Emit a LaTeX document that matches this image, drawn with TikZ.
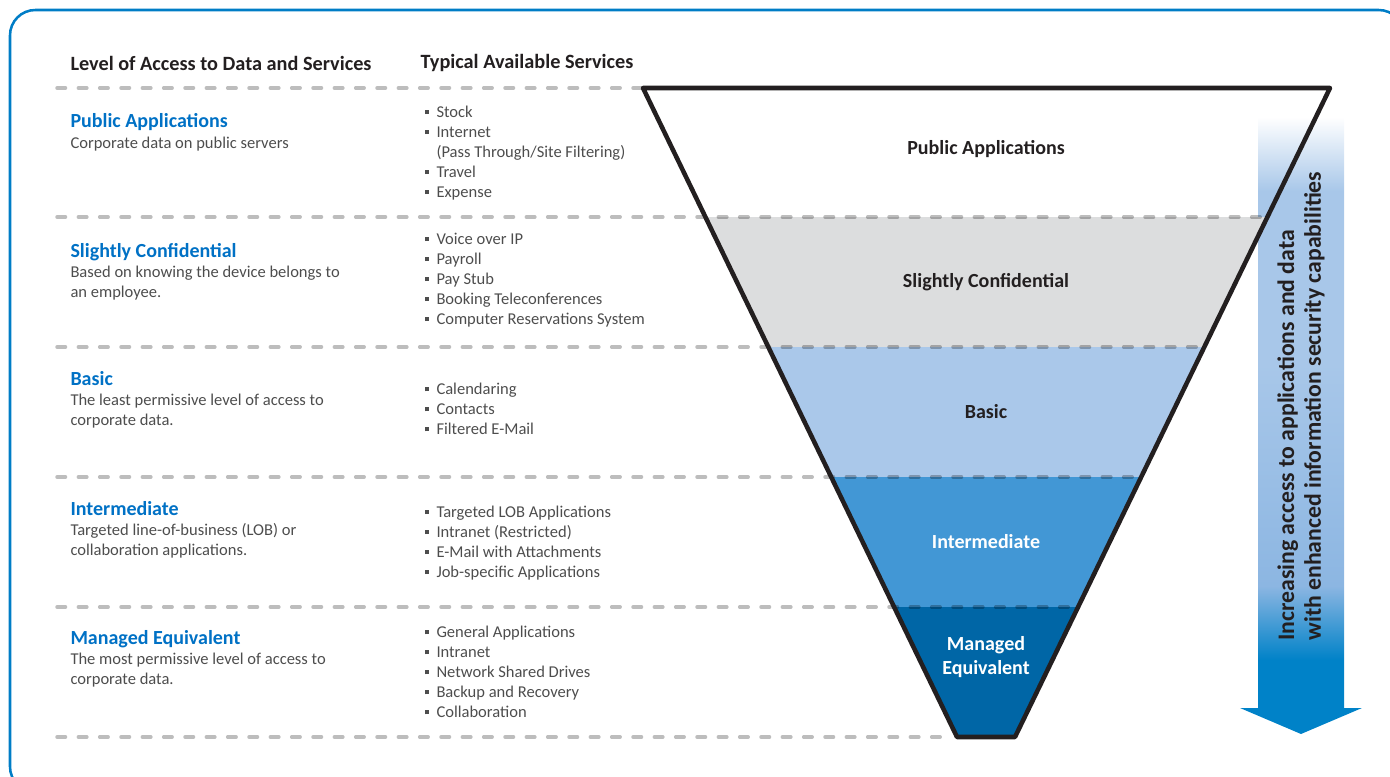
\documentclass[tikz,border=0pt]{standalone}
\usepackage{fontspec}
\setmainfont{Carlito}
\usepackage{tikz}
\tikzset{every picture/.style={line width=0.75pt}}

\definecolor{arrowblue}{RGB}{0,130,200}
\definecolor{arrowmid}{RGB}{140,182,226}
\definecolor{arrowlight}{RGB}{168,199,233}
\pgfdeclareverticalshading{arrowshade}{100bp}{color(0bp)=(arrowblue); color(31bp)=(arrowblue); color(37bp)=(arrowmid); color(55bp)=(arrowlight); color(69bp)=(arrowlight); color(75bp)=(white); color(100bp)=(white)}

\newcommand{\sqbul}{\makebox[9pt][l]{\rule[0.2em]{0.26em}{0.26em}}}

\begin{document}
\begin{tikzpicture}[x=0.75pt,y=0.75pt,yscale=-1,xscale=1,
	sepline/.style={color=black, draw opacity=0.26, line width=2.6pt, line cap=round, dash pattern={on 6.4pt off 9.6pt}},
	colhead/.style={anchor=west, inner sep=0pt, font=\fontsize{15.2}{18}\selectfont\bfseries, text={rgb, 255:red, 35; green, 31; blue, 32 }},
	lvlhead/.style={anchor=west, inner sep=0pt, font=\fontsize{15}{18}\selectfont\bfseries, text={rgb, 255:red, 0; green, 113; blue, 197 }},
	lvldesc/.style={anchor=west, inner sep=0pt, align=left, font=\fontsize{12.4}{15}\selectfont, text={rgb, 255:red, 77; green, 77; blue, 77 }},
	svclist/.style={anchor=west, inner sep=0pt, align=left, font=\fontsize{12.4}{15}\selectfont, text={rgb, 255:red, 77; green, 77; blue, 77 }},
	funlabel/.style={inner sep=0pt, align=center, font=\fontsize{15}{18}\selectfont\bfseries, text={rgb, 255:red, 35; green, 31; blue, 32 }}
	]
		\useasboundingbox (0,0) rectangle (1390,777);
		\clip (0,0) rectangle (1390,777);
		
		%Rounded Rect [id:frame] 
		\draw [color={rgb, 255:red, 0; green, 125; blue, 198 }  ,line width=1.9pt ,rounded corners=19pt]  (10,10) rectangle (1404,792) ;
		
		%Shape: Down Arrow [id:arrow] 
		\shade [shading=arrowshade]  (1258,117) -- (1344,117) -- (1344,708) -- (1362,708) -- (1301,734) -- (1240,708) -- (1258,708) -- cycle ;
		
		%Funnel corners
		\coordinate (funTL) at (643,88);
		\coordinate (funTR) at (1330,88);
		\coordinate (funBR) at (1015,737);
		\coordinate (funBL) at (957,737);
		
		%Funnel bands
		\begin{scope}
			\clip (funTL) -- (funTR) -- (funBR) -- (funBL) -- cycle;
			\fill [color={rgb, 255:red, 220; green, 221; blue, 222 }]  (600,217) rectangle (1400,347) ;
			\fill [color={rgb, 255:red, 170; green, 200; blue, 234 }]  (600,347) rectangle (1400,477) ;
			\fill [color={rgb, 255:red, 66; green, 151; blue, 213 }]  (600,477) rectangle (1400,607) ;
			\fill [color={rgb, 255:red, 0; green, 102; blue, 166 }]  (600,607) rectangle (1400,740) ;
		\end{scope}
		
		%Straight Lines [id:sep0] 
		\draw [sepline]  (57,88) -- (1265,88) ;
		%Straight Lines [id:sep1] 
		\draw [sepline]  (57,217) -- (1263,217) ;
		%Straight Lines [id:sep2] 
		\draw [sepline]  (57,347) -- (1199,347) ;
		%Straight Lines [id:sep3] 
		\draw [sepline]  (57,477) -- (1137,477) ;
		%Straight Lines [id:sep4] 
		\draw [sepline]  (57,607) -- (1074,607) ;
		%Straight Lines [id:sep5] 
		\draw [sepline]  (57,737) -- (950,737) ;
		
		%Funnel outline 
		\draw [color={rgb, 255:red, 35; green, 31; blue, 32 }  ,line width=3.4pt ,line join=round]  (funTL) -- (funTR) -- (funBR) -- (funBL) -- cycle ;
		
		% Text Node
		\node (arrowText) [anchor=west, rotate=90, align=left, inner sep=0pt, font=\fontsize{17.8}{20}\selectfont\bfseries, text={rgb, 255:red, 35; green, 31; blue, 32 }] at (1301,641) {Increasing access to applications and data\\with enhanced information security capabilities};
		
		% Text Node
		\node (levelHead) [colhead] at (70,63) {Level of Access to Data and Services};
		% Text Node
		\node (serviceHead) [colhead] at (420,63) {Typical Available Services};
		
		% Text Node
		\node (pubHead) [lvlhead] at (70,122) {Public Applications};
		% Text Node
		\node (pubDesc) [lvldesc] at (70,144) {Corporate data on public servers};
		% Text Node
		\node (pubSvc) [svclist] at (424,153) {\sqbul Stock\\\sqbul Internet\\\hspace*{9pt}(Pass Through/Site Filtering)\\\sqbul Travel\\\sqbul Expense};
		
		% Text Node
		\node (confHead) [lvlhead] at (70,252) {Slightly Confidential};
		% Text Node
		\node (confDesc) [lvldesc] at (70,283) {Based on knowing the device belongs to\\an employee.};
		% Text Node
		\node (confSvc) [svclist] at (424,280) {\sqbul Voice over IP\\\sqbul Payroll\\\sqbul Pay Stub\\\sqbul Booking Teleconferences\\\sqbul Computer Reservations System};
		
		% Text Node
		\node (basicHead) [lvlhead] at (70,379) {Basic};
		% Text Node
		\node (basicDesc) [lvldesc] at (70,411.5) {The least permissive level of access to\\corporate data.};
		% Text Node
		\node (basicSvc) [svclist] at (424,409) {\sqbul Calendaring\\\sqbul Contacts\\\sqbul Filtered E-Mail};
		
		% Text Node
		\node (interHead) [lvlhead] at (70,509) {Intermediate};
		% Text Node
		\node (interDesc) [lvldesc] at (70,540.5) {Targeted line-of-business (LOB) or\\collaboration applications.};
		% Text Node
		\node (interSvc) [svclist] at (424,543) {\sqbul Targeted LOB Applications\\\sqbul Intranet (Restricted)\\\sqbul E-Mail with Attachments\\\sqbul Job-specific Applications};
		
		% Text Node
		\node (mngHead) [lvlhead] at (70,639) {Managed Equivalent};
		% Text Node
		\node (mngDesc) [lvldesc] at (70,670.5) {The most permissive level of access to\\corporate data.};
		% Text Node
		\node (mngSvc) [svclist] at (424,672) {\sqbul General Applications\\\sqbul Intranet\\\sqbul Network Shared Drives\\\sqbul Backup and Recovery\\\sqbul Collaboration};
		
		% Text Node
		\node (funPub) [funlabel] at (986,149) {Public Applications};
		% Text Node
		\node (funConf) [funlabel] at (986,282) {Slightly Confidential};
		% Text Node
		\node (funBasic) [funlabel] at (986,412) {Basic};
		% Text Node
		\node (funInter) [funlabel, text=white] at (986,542) {Intermediate};
		% Text Node
		\node (funMng) [funlabel, text=white] at (986,657) {Managed\\Equivalent};
		
\end{tikzpicture}
\end{document}
